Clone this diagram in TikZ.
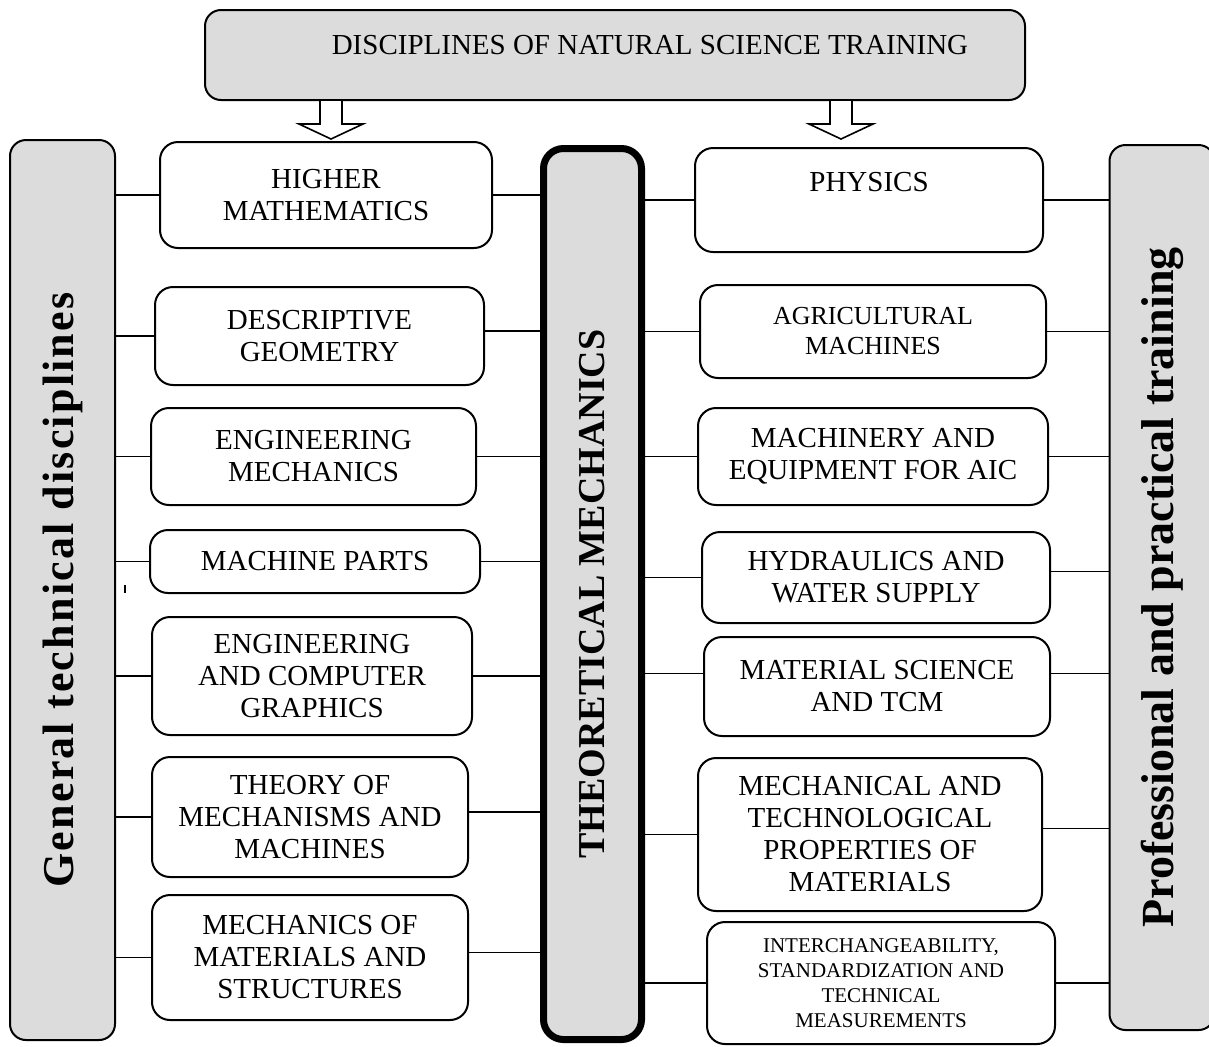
\documentclass[tikz,border=0pt]{standalone}
\usepackage{fontspec}
\setmainfont{Liberation Serif}
\usetikzlibrary{positioning}

\definecolor{panelgray}{RGB}{220,220,220}

\tikzset{
  subj/.style={draw, line width=1pt, rounded corners=9pt, fill=white, align=center,
    inner sep=2pt, font=\fontsize{14.5}{16}\selectfont},
  panel/.style={draw, line width=1pt, rounded corners=8pt, fill=panelgray},
  sidetext/.style={font=\bfseries\fontsize{22}{24}\selectfont\addfontfeature{LetterSpace=5}},
  link/.style={line width=0.8pt},
}

\begin{document}
\begin{tikzpicture}[x=0.5pt,y=-0.5pt]
\useasboundingbox (0,0) rectangle (1209,1046);

% top box
\node[panel, minimum width=410pt, minimum height=45pt, align=center, text depth=10pt,
  font=\fontsize{14.5}{16}\selectfont] (nat) at (615,55)
  {\hspace*{35pt}DISCIPLINES OF NATURAL SCIENCE TRAINING};

% side panels
\node[panel, sidetext, rotate=90, minimum width=450pt, minimum height=52.5pt] (gen) at (62.5,590)
  {General technical disciplines};
\node[panel, rotate=90, line width=3.5pt, rounded corners=10pt, minimum width=445.5pt,
  minimum height=49pt, font=\bfseries\fontsize{19}{20}\selectfont] (tm) at (592.5,594)
  {THEORETICAL MECHANICS};
\node[panel, sidetext, rotate=90, minimum width=442.5pt, minimum height=52.5pt,
  font=\bfseries\fontsize{23}{24}\selectfont\addfontfeature{LetterSpace=0}] (ppt) at (1162,587.5)
  {Professional and practical training};

% left column
\node[subj, minimum width=166pt, minimum height=53pt] (hm) at (326,195) {HIGHER\\MATHEMATICS};
\node[subj, minimum width=164.5pt, minimum height=49pt] (dg) at (319.5,336) {DESCRIPTIVE\\GEOMETRY};
\node[subj, minimum width=162.5pt, minimum height=48.5pt] (em) at (313.5,456.5) {ENGINEERING\\MECHANICS};
\node[subj, minimum width=165pt, minimum height=31.5pt] (mp) at (315,561.5) {MACHINE PARTS};
\node[subj, minimum width=160pt, minimum height=59pt] (ecg) at (312,676) {ENGINEERING\\AND COMPUTER\\GRAPHICS};
\node[subj, minimum width=158pt, minimum height=60pt] (tmm) at (310,817) {THEORY OF\\MECHANISMS AND\\MACHINES};
\node[subj, minimum width=158pt, minimum height=62.5pt] (mms) at (310,957.5) {MECHANICS OF\\MATERIALS AND\\STRUCTURES};

% right column
\node[subj, minimum width=174pt, minimum height=52pt, text depth=18pt] (ph) at (869,200) {PHYSICS};
\node[subj, minimum width=173pt, minimum height=46.5pt, font=\fontsize{13}{15}\selectfont] (am) at (873,331.5) {AGRICULTURAL\\MACHINES};
\node[subj, minimum width=175pt, minimum height=48.5pt] (mea) at (873,456.5) {MACHINERY AND\\EQUIPMENT FOR AIC};
\node[subj, minimum width=174pt, minimum height=45.5pt] (hws) at (876,577.5) {HYDRAULICS AND\\WATER SUPPLY};
\node[subj, minimum width=173pt, minimum height=49.5pt] (mst) at (877,686.5) {MATERIAL SCIENCE\\AND TCM};
\node[subj, minimum width=172pt, minimum height=76.5pt] (mtp) at (870,834.5) {MECHANICAL AND\\TECHNOLOGICAL\\PROPERTIES OF\\MATERIALS};
\node[subj, minimum width=174pt, minimum height=61pt, font=\fontsize{10.5}{12.5}\selectfont] (isn) at (881,983)
  {INTERCHANGEABILITY,\\STANDARDIZATION AND\\TECHNICAL\\MEASUREMENTS};

% hollow arrows
\draw[link, fill=white] (nat.south -| 331,0) ++(-11,0) -- ++(0,23) -- ++(-21,0) -- ++(32,15)
  -- ++(32,-15) -- ++(-21,0) -- ++(0,-23);
\draw[link, fill=white] (nat.south -| 841,0) ++(-11,0) -- ++(0,23) -- ++(-21,0) -- ++(32,15)
  -- ++(32,-15) -- ++(-21,0) -- ++(0,-23);

% links on the left
\draw[link] (gen.south |- hm.west) -- (hm.west)  (hm.east) -- (tm.north |- hm.east);
\draw[link] (gen.south |- dg.west) -- (dg.west)  ([yshift=2.5pt]dg.east) -- ([yshift=2.5pt]tm.north |- dg.east);
\draw[link] (gen.south |- em.west) -- (em.west)  (em.east) -- (tm.north |- em.east);
\draw[link] (gen.south |- mp.west) -- (mp.west)  (mp.east) -- (tm.north |- mp.east);
\draw[link] (gen.south |- ecg.west) -- (ecg.west)  (ecg.east) -- (tm.north |- ecg.east);
\draw[link] (gen.south |- tmm.west) -- (tmm.west)  ([yshift=2.5pt]tmm.east) -- ([yshift=2.5pt]tm.north |- tmm.east);
\draw[link] (gen.south |- mms.west) -- (mms.west)  ([yshift=2.5pt]mms.east) -- ([yshift=2.5pt]tm.north |- mms.east);

% links on the right
\draw[link] (tm.south |- ph.west) -- (ph.west)  (ph.east) -- (ppt.north |- ph.east);
\draw[link] (tm.south |- am.west) -- (am.west)  (am.east) -- (ppt.north |- am.east);
\draw[link] (tm.south |- mea.west) -- (mea.west)  (mea.east) -- (ppt.north |- mea.east);
\draw[link] (tm.south |- hws.west) -- (hws.west)  ([yshift=3pt]hws.east) -- ([yshift=3pt]ppt.north |- hws.east);
\draw[link] ([yshift=6.5pt]tm.south |- mst.west) -- ([yshift=6.5pt]mst.west)
  ([yshift=6.5pt]mst.east) -- ([yshift=6.5pt]ppt.north |- mst.east);
\draw[link] (tm.south |- mtp.west) -- (mtp.west)  ([yshift=3pt]mtp.east) -- ([yshift=3pt]ppt.north |- mtp.east);
\draw[link] (tm.south |- isn.west) -- (isn.west)  (isn.east) -- (ppt.north |- isn.east);

\draw[link] (125,585) -- (125,593);
\end{tikzpicture}
\end{document}
